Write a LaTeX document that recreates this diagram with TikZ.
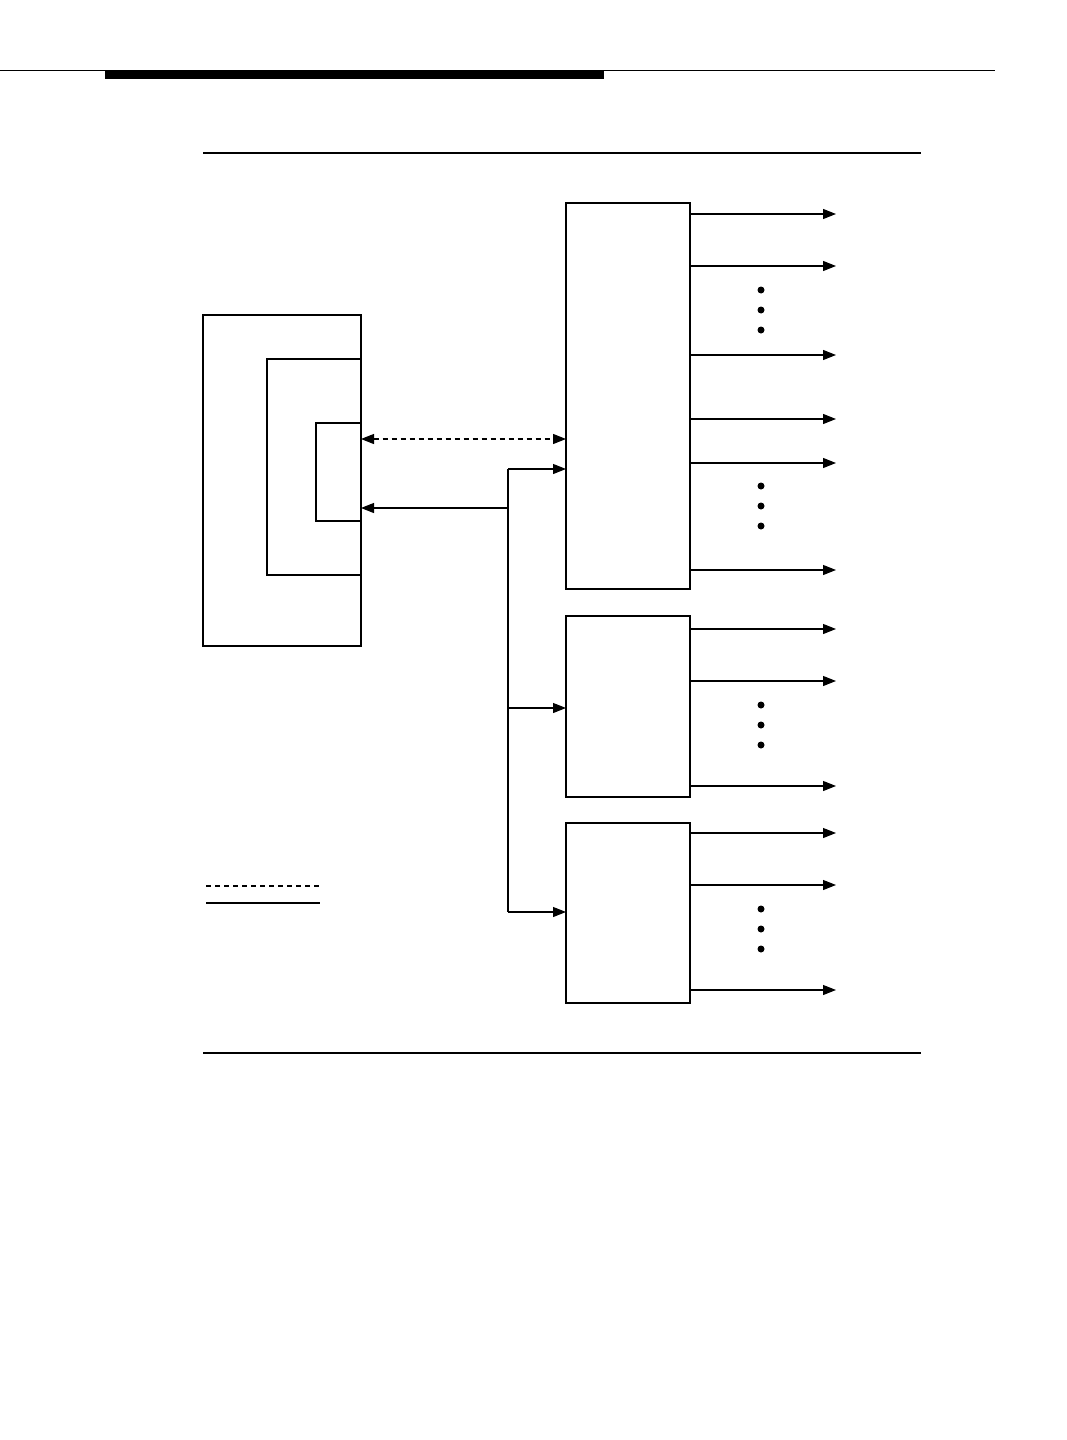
\documentclass[tikz,border=0pt]{standalone}
\usetikzlibrary{arrows.meta}
\begin{document}
\begin{tikzpicture}[x=1pt,y=-1pt,
  thickbox/.style={draw,line width=1.6pt,rectangle,inner sep=0pt,outer sep=0pt,anchor=north west},
  thin/.style={line width=1.1pt},
  conn/.style={line width=1.1pt,-{Triangle[length=13pt,width=10pt]}},
  dconn/.style={line width=1.1pt,dashed,dash pattern=on 5pt off 4pt,{Triangle[length=13pt,width=10pt]}-{Triangle[length=13pt,width=10pt]}},
  dotmark/.style={fill,circle,inner sep=0pt,minimum size=7pt}]
\useasboundingbox (0,0) rectangle (1066,1440);
% header rules
\draw[line width=1.3pt] (0,70.5) -- (995,70.5);
\fill (105,70) rectangle (604,79);
\draw[line width=2pt] (203,153) -- (921,153);
\draw[line width=1.1pt] (203,1053) -- (921,1053);
% left box with nested brackets
\node[thickbox,minimum width=158pt,minimum height=331pt] (lbox) at (203,315) {};
\draw[thin] (lbox.east |- 0,359) -- (267,359) -- (267,575) -- (lbox.east |- 0,575);
\draw[thin] (lbox.east |- 0,423) -- (316,423) -- (316,521) -- (lbox.east |- 0,521);
% right boxes
\node[thickbox,minimum width=124pt,minimum height=386pt] (b1) at (566,203) {};
\node[thickbox,minimum width=124pt,minimum height=181pt] (b2) at (566,616) {};
\node[thickbox,minimum width=124pt,minimum height=180pt] (b3) at (566,823) {};
% connections
\draw[dconn] (lbox.east |- 0,439) -- (b1.west |- 0,439);
\coordinate (bus) at (508,508);
\draw[conn] (bus) -- (lbox.east |- bus);
\draw[thin] (508,469) -- (508,912);
\draw[conn] (508,469) -- (b1.west |- 0,469);
\draw[conn] (508,708) -- (b2.west |- 0,708);
\draw[conn] (508,912) -- (b3.west |- 0,912);
% outputs
\foreach \y in {214,266,355,419,463,570} {
  \coordinate (o\y) at (836,\y);
  \draw[conn] (b1.east |- 0,\y) -- (o\y);
}
\foreach \y in {629,681,786} {
  \coordinate (o\y) at (836,\y);
  \draw[conn] (b2.east |- 0,\y) -- (o\y);
}
\foreach \y in {833,885,990} {
  \coordinate (o\y) at (836,\y);
  \draw[conn] (b3.east |- 0,\y) -- (o\y);
}
% dots
\foreach \y in {290,310,330,486,506,526,705,725,745,909,929,949}
  \node[dotmark] (d\y) at (761,\y) {};
% legend
\draw[line width=1.1pt,dash pattern=on 5pt off 4pt] (206,886) -- (320,886);
\draw[line width=1.3pt] (206,903) -- (320,903);
\end{tikzpicture}
\end{document}
